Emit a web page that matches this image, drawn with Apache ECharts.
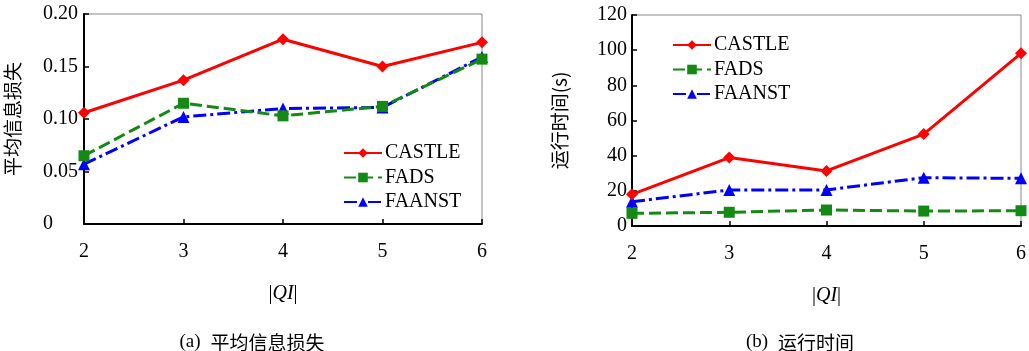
<!DOCTYPE html>
<html><head><meta charset="utf-8">
<script src="https://cdn.jsdelivr.net/npm/echarts@6/dist/echarts.min.js"></script>
<style>html,body{margin:0;padding:0;background:#fff}#c{width:1029px;height:351px}</style>
</head><body><div id="c"></div>
<script>
const categories = ['2','3','4','5','6'];
const lossCASTLE = [0.106, 0.137, 0.176, 0.150, 0.173];
const lossFADS   = [0.065, 0.115, 0.103, 0.112, 0.157];
const lossFAANST = [0.057, 0.102, 0.110, 0.111, 0.159];
const timeCASTLE = [18, 38.9, 31.3, 52.3, 98.2];
const timeFADS   = [7.2, 7.8, 9.1, 8.5, 8.7];
const timeFAANST = [13.8, 20.5, 20.5, 27.5, 27.1];
const seriesNames = ['CASTLE','FADS','FAANST'];
const lossTicks = ['0','0.05','0.10','0.15','0.20'];

const serif = '"Liberation Serif", "Times New Roman", serif';
const cjk = '"Noto Sans CJK SC", sans-serif';
const styles = [
  {color:'#ff0000', symbol:'diamond', size:12, type:'solid'},
  {color:'#138a13', symbol:'rect', size:11, type:[12,5]},
  {color:'#0000ff', symbol:'triangle', size:12, type:[13,4,3,4]}
];

function mkSeries(data, idx, gi){
  const s = styles[idx];
  return {
    name: seriesNames[idx], type:'line', xAxisIndex:gi, yAxisIndex:gi,
    data: data, symbol: s.symbol, symbolSize: s.size, showSymbol:true,
    lineStyle:{color:s.color, width:3, type:s.type},
    itemStyle:{color:s.color}, z: 3 - idx, animation:false
  };
}

const xAxisCommon = {
  type:'category', data: categories, boundaryGap:false,
  axisLine:{lineStyle:{color:'#000', width:2}},
  axisTick:{inside:true, length:5, lineStyle:{color:'#000', width:1.5}, alignWithLabel:true},
  axisLabel:{color:'#000', fontFamily:serif, fontSize:20, margin:18},
  splitLine:{show:false},
  name:'{a||}{b|QI}{a||}', nameLocation:'middle', nameGap:60,
  nameTextStyle:{rich:{a:{fontFamily:serif, fontSize:20, color:'#000'}, b:{fontFamily:serif, fontSize:20, fontStyle:'italic', color:'#000'}}}
};
const yAxisCommon = {
  type:'value',
  axisLine:{show:true, lineStyle:{color:'#000', width:2}},
  axisTick:{show:true, inside:true, length:5, lineStyle:{color:'#000', width:1.5}},
  axisLabel:{color:'#000', fontFamily:serif, fontSize:20, margin:5},
  splitLine:{show:false},
  nameLocation:'middle', nameRotate:90,
  nameTextStyle:{fontFamily:cjk, fontSize:19, color:'#000'}
};
const legendCommon = {
  orient:'vertical', itemWidth:38, itemHeight:12, itemGap:4.5,
  textStyle:{fontFamily:serif, fontSize:20, color:'#000', padding:[0,0,0,-2]}, selectedMode:false
};
const capRich = {p:{fontFamily:serif, fontSize:19, fontWeight:'normal', color:'#000'}, c:{fontFamily:cjk, fontSize:19, fontWeight:'normal', color:'#000'}};

const chart = echarts.init(document.getElementById('c'), null, {renderer:'canvas'});
chart.setOption({
  animation:false,
  backgroundColor:'#fff',
  title:[
    {text:'{p|(a)}  {c|平均信息损失}', left:247, top:328, textAlign:'center', textStyle:{fontWeight:'normal', rich:capRich}},
    {text:'{p|(b)}  {c|运行时间}', left:795, top:328, textAlign:'center', textStyle:{fontWeight:'normal', rich:capRich}}
  ],
  grid:[
    {left:84, top:14, width:398, height:210, show:true, borderColor:'#888', borderWidth:1, backgroundColor:'transparent'},
    {left:632, top:15, width:396, height:211, show:true, borderColor:'#888', borderWidth:1, backgroundColor:'transparent'}
  ],
  legend:[
    Object.assign({}, legendCommon, {data:seriesNames, left:338, top:138}),
    Object.assign({}, legendCommon, {data:seriesNames, left:667, top:30})
  ],
  xAxis:[
    Object.assign({}, xAxisCommon, {gridIndex:0}),
    Object.assign({}, xAxisCommon, {gridIndex:1})
  ],
  yAxis:[
    Object.assign({}, yAxisCommon, {gridIndex:0, min:0, max:0.2, interval:0.05, name:'平均信息损失', nameGap:62,
      axisLabel:Object.assign({}, yAxisCommon.axisLabel, {align:'left', margin:41, formatter:(v)=>lossTicks[Math.round(v/0.05)]})}),
    Object.assign({}, yAxisCommon, {gridIndex:1, min:0, max:120, interval:20, name:'运行时间(s)', nameGap:63})
  ],
  series:[
    mkSeries(lossCASTLE,0,0), mkSeries(lossFADS,1,0), mkSeries(lossFAANST,2,0),
    mkSeries(timeCASTLE,0,1), mkSeries(timeFADS,1,1), mkSeries(timeFAANST,2,1)
  ]
});
</script></body></html>
